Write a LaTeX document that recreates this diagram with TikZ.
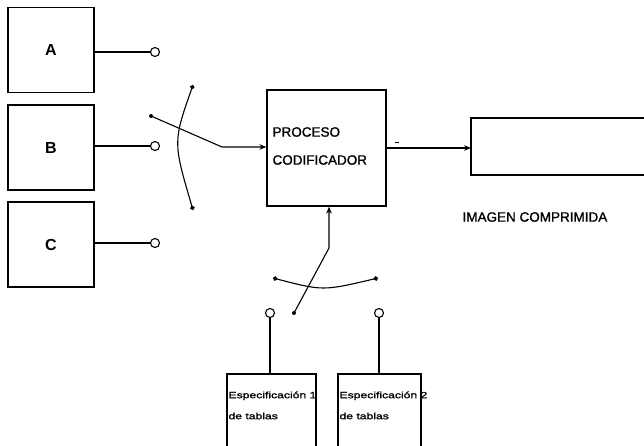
\documentclass[tikz,border=0pt]{standalone}
\usepackage{fontspec}
\setmainfont{Liberation Sans}
\newfontfamily\medfont[FakeBold=1.2]{Liberation Sans}
\newfontfamily\widefont[FakeStretch=1.35,FakeBold=1.5]{Liberation Sans}
\usetikzlibrary{arrows.meta}
\begin{document}
\begin{tikzpicture}[x=1pt,y=-1pt,
  every path/.style={line width=1.1pt},
  srcbox/.style={draw,line width=1.3pt,minimum width=86pt,minimum height=85pt,inner sep=0pt,font=\fontsize{16}{18}\selectfont\bfseries},
  term/.style={draw,circle,fill=white,line width=1.1pt,minimum size=9pt,inner sep=0pt},
  lbl/.style={anchor=west,inner sep=0pt,font=\medfont\fontsize{13.5}{15}\selectfont},
  small/.style={anchor=north west,inner sep=0pt,align=left,font=\widefont\fontsize{9}{21}\selectfont},
  arr/.style={-{Stealth[length=7pt,width=5.5pt]}},
  dots/.style={{Circle[length=4.5pt]}-{Circle[length=4.5pt]}}
]
\useasboundingbox (0,0) rectangle (644,445);
% source boxes
\node[srcbox] (A) at (51,50) {A};
\node[srcbox] (B) at (51,147.5) {B};
\node[srcbox] (C) at (51,244.5) {C};
\node[term] (cA) at (155,52) {};
\node[term] (cB) at (155,146) {};
\node[term] (cC) at (155,243) {};
\draw (A.east |- cA) -- (cA);
\draw (B.east |- cB) -- (cB);
\draw (C.east |- cC) -- (cC);
% process box
\node[draw,line width=1.3pt,minimum width=119pt,minimum height=116pt,inner sep=0pt] (proc) at (326.5,148) {};
\node[lbl] (p1) at (272,132) {PROCESO};
\node[lbl] (p2) at (272,160) {CODIFICADOR};
% switch 1
\coordinate (s1) at (151,116);
\coordinate (k1) at (222,147);
\fill (s1) circle (2pt);
\draw[arr] (s1) -- (k1) -- (proc.west |- k1);
\coordinate (a1) at (193,85);
\coordinate (a2) at (193,210);
\draw[dots] (a1) .. controls (173,142) .. (a2);
% output
\coordinate (imgW) at (471,148);
\draw[arr] (proc.east |- imgW) -- (imgW);
\draw[line width=0.8pt] (395,142) -- (399,142);
\draw[line width=1.3pt] (644,118) -- (471,118) -- (471,175) -- (644,175);
\node[lbl] (imglbl) at (462,217) {IMAGEN COMPRIMIDA};
% switch 2
\coordinate (s2) at (294,313);
\coordinate (k2) at (329,248);
\fill (s2) circle (2pt);
\draw[arr] (s2) -- (k2) -- (k2 |- proc.south);
\coordinate (b1) at (273,278);
\coordinate (b2) at (378,278);
\draw[dots] (b1) .. controls (323,291) .. (b2);
% table boxes
\node[term] (d1) at (270,313) {};
\node[term] (d2) at (379,313) {};
\coordinate (t1) at (270,374);
\coordinate (t2) at (379,374);
\draw (d1) -- (t1);
\draw (d2) -- (t2);
\draw[line width=1.3pt] (227,450) -- (227,374) -- (316,374) -- (316,450);
\draw[line width=1.3pt] (338,450) -- (338,374) -- (421,374) -- (421,450);
\node[small] (e1) at (228,391) {Especificación 1\\de tablas};
\node[small] (e2) at (339,391) {Especificación 2\\de tablas};
\end{tikzpicture}
\end{document}
